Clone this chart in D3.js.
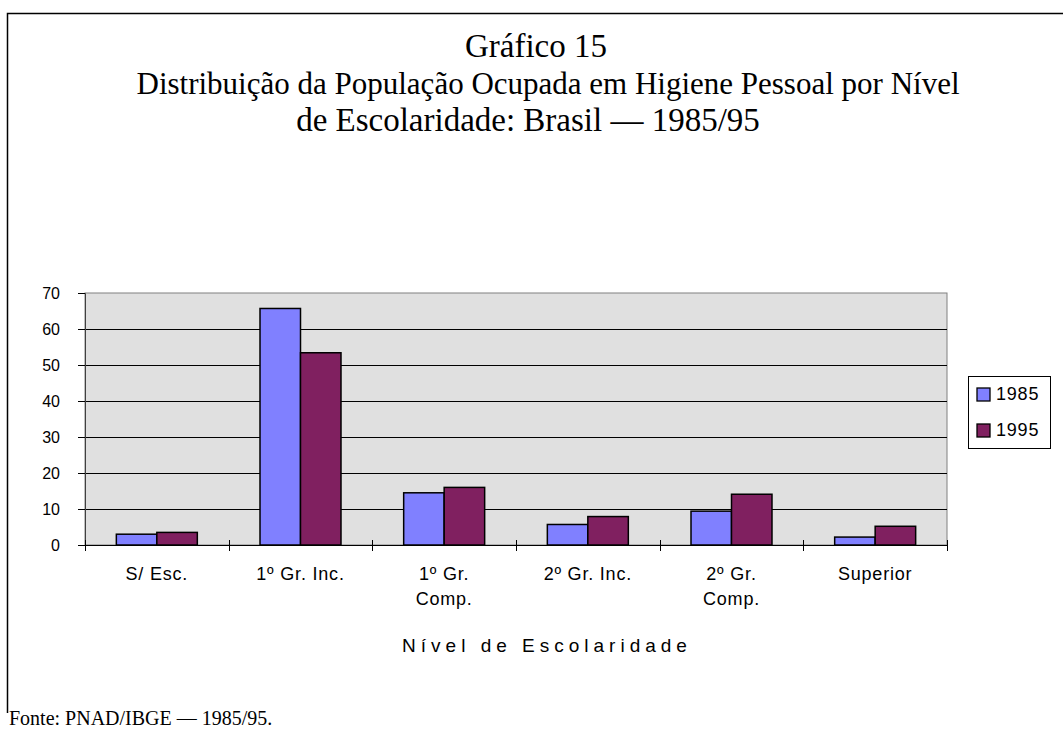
<!DOCTYPE html>
<html>
<head>
<meta charset="utf-8">
<script src="https://cdn.jsdelivr.net/npm/d3@7"></script>
<style>
  html, body { margin: 0; padding: 0; background: #fff; }
  svg { display: block; }
</style>
</head>
<body>
<svg id="chart" width="1063" height="735"></svg>
<script>
// ---- data ----
const titleLines = [
  "Gráfico 15",
  "Distribuição da População Ocupada em Higiene Pessoal por Nível",
  "de Escolaridade: Brasil — 1985/95"
];
const categories = ["S/ Esc.", "1º Gr. Inc.", "1º Gr. Comp.", "2º Gr. Inc.", "2º Gr. Comp.", "Superior"];
const tickLabels = [["S/ Esc."], ["1º Gr. Inc."], ["1º Gr.", "Comp."], ["2º Gr. Inc."], ["2º Gr.", "Comp."], ["Superior"]];
const series = ["1985", "1995"];
const values1985 = [3.0, 65.7, 14.5, 5.7, 9.4, 2.2];
const values1995 = [3.5, 53.4, 16.0, 7.9, 14.1, 5.2];
const yTicks = [0, 10, 20, 30, 40, 50, 60, 70];
const xTitle = "Nível de Escolaridade";
const sourceNote = "Fonte: PNAD/IBGE — 1985/95.";

// ---- layout ----
const svg = d3.select("#chart");
const sans = "'Liberation Sans', Arial, sans-serif";
const serif = "'Liberation Serif', 'Times New Roman', serif";
const colors = { "1985": "#8080ff", "1995": "#802060" };
const plot = { left: 85, right: 947, top: 293, bottom: 545 };

// outer frame (top and left edges visible)
svg.append("path")
  .attr("d", "M7.5,713 L7.5,13.5 L1063,13.5")
  .attr("fill", "none").attr("stroke", "#000").attr("stroke-width", 1.5);

// title
const titleX = [536, 548, 528];
const titleY = [57, 94, 131];
const titleSize = [33, 31, 33];
svg.append("g").selectAll("text").data(titleLines).join("text")
  .attr("x", (d, i) => titleX[i]).attr("y", (d, i) => titleY[i])
  .attr("text-anchor", "middle")
  .attr("font-family", serif).attr("font-size", (d, i) => titleSize[i]).attr("fill", "#000")
  .text(d => d);

// scales
const x0 = d3.scaleBand().domain(categories).range([plot.left, plot.right]).padding(0);
const x1 = d3.scaleBand().domain(series).range([0, x0.bandwidth()]).paddingInner(0).paddingOuter(0.774);
const y = d3.scaleLinear().domain([0, 70]).range([plot.bottom, plot.top]);

// plot background
svg.append("rect")
  .attr("x", plot.left).attr("y", plot.top)
  .attr("width", plot.right - plot.left).attr("height", plot.bottom - plot.top)
  .attr("fill", "#e0e0e0").attr("stroke", "#808080").attr("stroke-width", 1);

// gridlines
svg.append("g").selectAll("line").data(yTicks.filter(t => t > 0 && t < 70)).join("line")
  .attr("x1", plot.left).attr("x2", plot.right)
  .attr("y1", d => Math.round(y(d)) + 0.5).attr("y2", d => Math.round(y(d)) + 0.5)
  .attr("stroke", "#000").attr("stroke-width", 1);

// bars
const rows = categories.map((c, i) => ({ cat: c, vals: [
  { s: "1985", v: values1985[i] }, { s: "1995", v: values1995[i] }
]}));
const groups = svg.append("g").selectAll("g").data(rows).join("g")
  .attr("transform", d => `translate(${x0(d.cat)},0)`);
groups.selectAll("rect").data(d => d.vals).join("rect")
  .attr("x", d => x1(d.s)).attr("width", x1.bandwidth())
  .attr("y", d => y(d.v)).attr("height", d => y(0) - y(d.v))
  .attr("fill", d => colors[d.s]).attr("stroke", "#000").attr("stroke-width", 1.5);

// y axis
const yAxis = svg.append("g")
  .attr("transform", `translate(${plot.left},0)`)
  .call(d3.axisLeft(y).tickValues(yTicks).tickSize(7).tickPadding(18).tickFormat(d3.format("d")));
yAxis.select(".domain").attr("stroke", "#404040");
yAxis.selectAll(".tick line").attr("stroke", "#000");
yAxis.selectAll("text").attr("font-family", sans).attr("font-size", 16).attr("fill", "#000");

// x axis line and boundary ticks
svg.append("line")
  .attr("x1", plot.left).attr("x2", plot.right)
  .attr("y1", plot.bottom + 0.5).attr("y2", plot.bottom + 0.5)
  .attr("stroke", "#000").attr("stroke-width", 1);
const bounds = categories.map(c => x0(c)).concat([x0(categories[categories.length - 1]) + x0.bandwidth()]);
svg.append("g").selectAll("line").data(bounds).join("line")
  .attr("x1", d => Math.round(d) + 0.5).attr("x2", d => Math.round(d) + 0.5)
  .attr("y1", plot.bottom - 5).attr("y2", plot.bottom + 6)
  .attr("stroke", "#000").attr("stroke-width", 1);

// x tick labels
const xl = svg.append("g").selectAll("text").data(categories).join("text")
  .attr("x", d => x0(d) + x0.bandwidth() / 2)
  .attr("y", 580)
  .attr("text-anchor", "middle")
  .attr("font-family", sans).attr("font-size", 18).attr("letter-spacing", 0.8).attr("fill", "#000");
xl.each(function(d, i) {
  const t = d3.select(this);
  tickLabels[i].forEach((line, j) => {
    t.append("tspan").attr("x", x0(d) + x0.bandwidth() / 2).attr("dy", j === 0 ? 0 : 25).text(line);
  });
});

// x axis title
svg.append("text")
  .attr("x", 547).attr("y", 652)
  .attr("text-anchor", "middle")
  .attr("font-family", sans).attr("font-size", 19).attr("letter-spacing", 5).attr("fill", "#000")
  .text(xTitle);

// legend
const lg = svg.append("g");
lg.append("rect").attr("x", 968.5).attr("y", 376.5).attr("width", 82).attr("height", 72)
  .attr("fill", "#fff").attr("stroke", "#000").attr("stroke-width", 1);
const li = lg.selectAll("g").data(series).join("g")
  .attr("transform", (d, i) => `translate(0,${i * 36})`);
li.append("rect").attr("x", 977).attr("y", 388).attr("width", 13).attr("height", 13)
  .attr("fill", d => colors[d]).attr("stroke", "#000").attr("stroke-width", 1.3);
li.append("text").attr("x", 996).attr("y", 400)
  .attr("font-family", sans).attr("font-size", 18).attr("letter-spacing", 0.8).attr("fill", "#000")
  .text(d => d);

// source note
svg.append("text")
  .attr("x", 9).attr("y", 725)
  .attr("font-family", serif).attr("font-size", 20).attr("fill", "#000")
  .text(sourceNote);
</script>
</body>
</html>
